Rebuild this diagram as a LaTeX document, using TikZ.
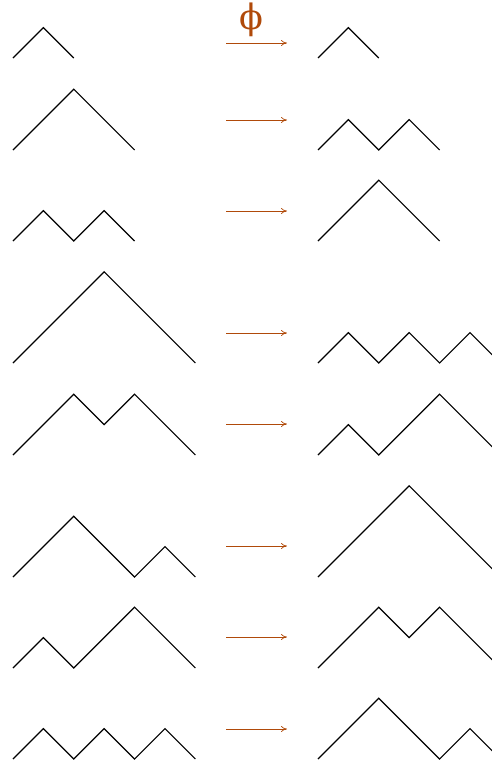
\documentclass[tikz,border=0pt]{standalone}
\usepackage{fontspec}
\newfontfamily\phfont{DejaVu Serif}
\usetikzlibrary{arrows.meta}
\definecolor{phibrown}{RGB}{176,74,10}
\begin{document}
\begin{tikzpicture}[x=1pt,y=-1pt,
  dyck/.style={line width=1.2pt,line join=miter,black},
  maparrow/.style={phibrown,line width=0.7pt,-{To[length=6pt,width=6pt]}}]
\useasboundingbox (0,0) rectangle (492,763);
\clip (0,0) rectangle (492,763);
\def\st{30.4}
% rows: baseline, left steps, right steps  (-1 = up, 1 = down)
\foreach \by/\L/\R in {
  58/{-1,1}/{-1,1},
  150/{-1,-1,1,1}/{-1,1,-1,1},
  241/{-1,1,-1,1}/{-1,-1,1,1},
  363/{-1,-1,-1,1,1,1}/{-1,1,-1,1,-1,1},
  455/{-1,-1,1,-1,1,1}/{-1,1,-1,-1,1,1},
  577/{-1,-1,1,1,-1,1}/{-1,-1,-1,1,1,1},
  668/{-1,1,-1,-1,1,1}/{-1,-1,1,-1,1,1},
  759/{-1,1,-1,1,-1,1}/{-1,-1,1,1,-1,1}}{
  \draw[dyck] (13,\by) \foreach \s in \L { -- ++(\st,\s*\st) };
  \draw[dyck] (318,\by) \foreach \s in \R { -- ++(\st,\s*\st) };
}
\foreach \ay [count=\i] in {43,120,211,333,424,546,637,729}{
  \coordinate (a\i) at (226,\ay);
  \coordinate (b\i) at (287,\ay);
  \draw[maparrow] (a\i) -- (b\i);
}
\node[phibrown,font=\phfont\fontsize{35}{35}\selectfont,inner sep=0pt] (phi) at (251,20) {ϕ};
\end{tikzpicture}
\end{document}
